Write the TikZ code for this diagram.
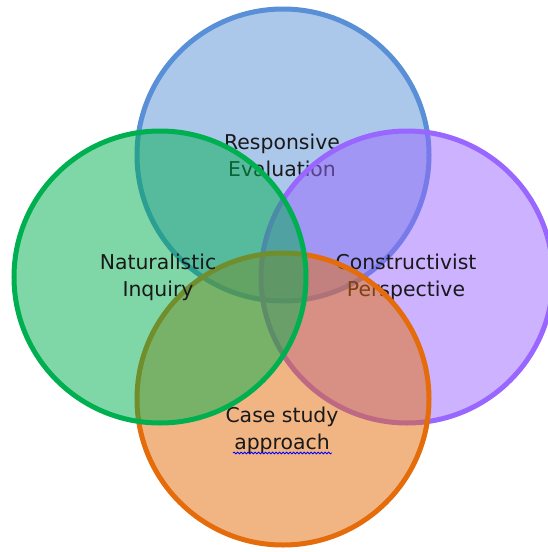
\documentclass[tikz,border=0pt]{standalone}
\usepackage{fontspec}
\setmainfont{DejaVu Sans}
\usetikzlibrary{decorations.pathmorphing}

\definecolor{evalblue}{RGB}{88,143,214}
\definecolor{natgreen}{RGB}{0,176,80}
\definecolor{conpurple}{RGB}{153,102,255}
\definecolor{caseorange}{RGB}{228,108,10}

\tikzset{
  ring/.style={line width=5pt, fill opacity=0.5, draw opacity=1},
  lbl/.style={align=center, text=black!90, font=\fontsize{20.4}{27}\selectfont}
}

\begin{document}
\begin{tikzpicture}[x=1pt,y=-1pt]
            \useasboundingbox (0,0) rectangle (548,552);

            \coordinate (B) at (283,155);
            \coordinate (P) at (407,277);
            \coordinate (O) at (283,399);
            \coordinate (G) at (160,277);

            \draw[ring, draw=evalblue, fill=evalblue] (B) circle (146);
            \node[lbl] (resp) at (282,155) {Responsive\\Evaluation};

            \draw[ring, draw=conpurple, fill=conpurple] (P) circle (146);
            \node[lbl] (cons) at (406,277) {Constructivist\\Perspective};

            \draw[ring, draw=caseorange, fill=caseorange] (O) circle (146);
            \node[lbl] (case) at (282,430) {Case study\\approach};
            \coordinate (wl) at (233,453);
            \coordinate (wr) at (332,453);
            \draw[blue, line width=0.8pt, decorate,
                  decoration={snake, amplitude=0.9pt, segment length=3.5pt}] (wl) -- (wr);

            \draw[ring, draw=natgreen, fill=natgreen] (G) circle (146);
            \node[lbl] (nat) at (158,277) {Naturalistic\\Inquiry};
        \end{tikzpicture}
\end{document}
